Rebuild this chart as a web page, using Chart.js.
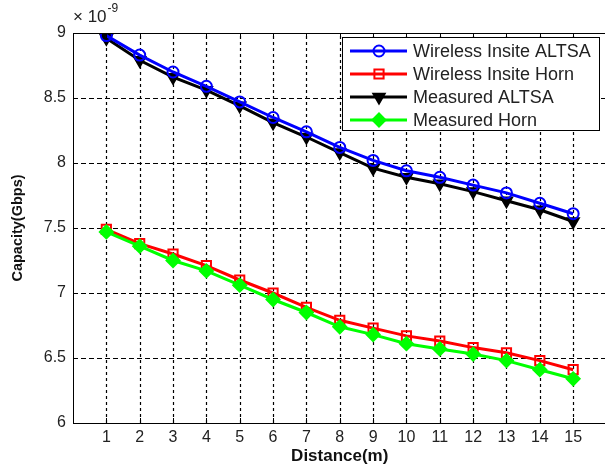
<!DOCTYPE html>
<html>
<head>
<meta charset="utf-8">
<script src="https://cdn.jsdelivr.net/npm/chart.js@4"></script>
<style>
  html, body { margin: 0; padding: 0; background: #fff; overflow: hidden; }
  #wrap { width: 615px; height: 472px; }
</style>
</head>
<body>
<div id="wrap"><canvas id="capChart" width="615" height="472"></canvas></div>
<script>
// afstanden en gemeten capaciteit (x 10^-9)
const distance = [1, 2, 3, 4, 5, 6, 7, 8, 9, 10, 11, 12, 13, 14, 15];
const wiAltsa = [8.98, 8.83, 8.70, 8.59, 8.47, 8.35, 8.24, 8.12, 8.02, 7.94, 7.89, 7.83, 7.77, 7.69, 7.61];
const wiHorn = [7.49, 7.38, 7.30, 7.21, 7.10, 7.00, 6.89, 6.79, 6.73, 6.67, 6.63, 6.58, 6.54, 6.48, 6.41];
const measAltsa = [8.96, 8.79, 8.66, 8.56, 8.44, 8.31, 8.20, 8.08, 7.96, 7.89, 7.84, 7.78, 7.71, 7.64, 7.55];
const measHorn = [7.47, 7.36, 7.25, 7.17, 7.06, 6.95, 6.85, 6.74, 6.68, 6.61, 6.57, 6.53, 6.48, 6.41, 6.34];
const yTicks = [6, 6.5, 7, 7.5, 8, 8.5, 9];
const exponentLabel = "-9";

const FONT = "'Liberation Sans', Arial, sans-serif";

function toPoints(values) {
    return values.map((v, i) => ({ x: distance[i], y: v }));
}

// stippellijnen van het raster, zelf getekend
const gridPlugin = {
    id: "dottedGrid",
    beforeDatasetsDraw(chart) {
        const { ctx, chartArea: a, scales } = chart;
        ctx.save();
        ctx.strokeStyle = "#000";
        ctx.lineWidth = 1.2;
        ctx.setLineDash([3, 3]);
        ctx.beginPath();
        distance.forEach(d => {
            const x = Math.round(scales.x.getPixelForValue(d)) + 0.5;
            ctx.moveTo(x, a.bottom); ctx.lineTo(x, a.top);
        });
        ctx.stroke();
        ctx.setLineDash([5, 3]);
        ctx.beginPath();
        yTicks.forEach(t => {
            const y = Math.round(scales.y.getPixelForValue(t)) + 0.5;
            ctx.moveTo(a.left, y); ctx.lineTo(a.right, y);
        });
        ctx.stroke();
        ctx.restore();
    }
};

// kader met tickjes aan de binnenkant, zoals matlab
const framePlugin = {
    id: "frame",
    afterDatasetsDraw(chart) {
        const { ctx, chartArea: a, scales } = chart;
        ctx.save();
        ctx.strokeStyle = "#000";
        ctx.lineWidth = 1;
        ctx.strokeRect(a.left + 0.5, a.top + 0.5, a.right - a.left, a.bottom - a.top);
        ctx.beginPath();
        distance.forEach(d => {
            const x = Math.round(scales.x.getPixelForValue(d)) + 0.5;
            ctx.moveTo(x, a.bottom); ctx.lineTo(x, a.bottom - 5);
            ctx.moveTo(x, a.top); ctx.lineTo(x, a.top + 5);
        });
        yTicks.forEach(t => {
            const y = Math.round(scales.y.getPixelForValue(t)) + 0.5;
            ctx.moveTo(a.left, y); ctx.lineTo(a.left + 5, y);
            ctx.moveTo(a.right, y); ctx.lineTo(a.right - 5, y);
        });
        ctx.stroke();

        // x 10^-9 boven de y-as
        ctx.fillStyle = "#222";
        ctx.textBaseline = "alphabetic";
        ctx.textAlign = "left";
        ctx.font = "17px " + FONT;
        ctx.fillText("\u00d7 10", a.left, a.top - 11);
        const w = ctx.measureText("\u00d7 10").width;
        ctx.font = "12px " + FONT;
        ctx.fillText(exponentLabel, a.left + w + 1, a.top - 21);
        ctx.restore();
    }
};

// eigen legenda in de rechterbovenhoek
const legendPlugin = {
    id: "boxLegend",
    afterDraw(chart) {
        const { ctx } = chart;
        const box = { x: 342, y: 37, w: 257, h: 93 };
        ctx.save();
        ctx.fillStyle = "#fff";
        ctx.fillRect(box.x, box.y, box.w, box.h);
        ctx.strokeStyle = "#000";
        ctx.lineWidth = 1;
        ctx.strokeRect(box.x + 0.5, box.y + 0.5, box.w, box.h);
        ctx.font = "18px " + FONT;
        ctx.textBaseline = "middle";
        ctx.textAlign = "left";
        chart.data.datasets.forEach((ds, i) => {
            const y = box.y + 14 + i * 23;
            ctx.strokeStyle = ds.borderColor;
            ctx.lineWidth = 3;
            ctx.beginPath();
            ctx.moveTo(350, y); ctx.lineTo(407, y);
            ctx.stroke();
            ctx.lineWidth = ds.pointBorderWidth;
            ctx.fillStyle = ds.pointBackgroundColor;
            Chart.helpers.drawPoint(ctx, {
                pointStyle: ds.pointStyle,
                radius: ds.pointRadius,
                rotation: ds.pointRotation || 0,
                borderWidth: ds.pointBorderWidth
            }, 379, y);
            ctx.fillStyle = "#222";
            ctx.fillText(ds.label, 413, y + 1);
        });
        ctx.restore();
    }
};

const ctx = document.getElementById("capChart").getContext("2d");
new Chart(ctx, {
    type: "line",
    data: {
        datasets: [
            {
                label: "Wireless Insite ALTSA",
                data: toPoints(wiAltsa),
                borderColor: "#0000ff",
                pointBorderColor: "#0000ff",
                pointBackgroundColor: "rgba(255,255,255,0)",
                pointStyle: "circle",
                pointRadius: 5.5,
                pointBorderWidth: 2,
                borderWidth: 3,
                order: 1
            },
            {
                label: "Wireless Insite Horn",
                data: toPoints(wiHorn),
                borderColor: "#ff0000",
                pointBorderColor: "#ff0000",
                pointBackgroundColor: "rgba(255,255,255,0)",
                pointStyle: "rect",
                pointRadius: 6.5,
                pointBorderWidth: 2,
                borderWidth: 3,
                order: 3
            },
            {
                label: "Measured ALTSA",
                data: toPoints(measAltsa),
                borderColor: "#000000",
                pointBorderColor: "#000000",
                pointBackgroundColor: "#000000",
                pointStyle: "triangle",
                pointRotation: 180,
                pointRadius: 6.5,
                pointBorderWidth: 2,
                borderWidth: 3,
                order: 2
            },
            {
                label: "Measured Horn",
                data: toPoints(measHorn),
                borderColor: "#00ff00",
                pointBorderColor: "#00ff00",
                pointBackgroundColor: "#00ff00",
                pointStyle: "rectRot",
                pointRadius: 6.5,
                pointBorderWidth: 2,
                borderWidth: 3,
                order: 2
            }
        ]
    },
    options: {
        responsive: false,
        animation: false,
        layout: { padding: { top: 33, right: 5, left: 0, bottom: 0 } },
        plugins: {
            legend: { display: false },
            tooltip: { enabled: false }
        },
        scales: {
            x: {
                type: "linear",
                min: 0,
                max: 16,
                afterBuildTicks: scale => { scale.ticks = distance.map(v => ({ value: v })); },
                afterFit: scale => { scale.height = 49; },
                grid: { display: false, drawTicks: false },
                border: { display: false },
                ticks: { color: "#222", padding: 5, font: { family: FONT, size: 16 } },
                title: {
                    display: true,
                    text: "Distance(m)",
                    color: "#111",
                    font: { family: FONT, size: 17, weight: "bold" },
                    padding: { top: 0, bottom: 5 }
                }
            },
            y: {
                min: 6,
                max: 9,
                afterBuildTicks: scale => { scale.ticks = yTicks.map(v => ({ value: v })); },
                afterFit: scale => { scale.width = 73; },
                grid: { display: false, drawTicks: false },
                border: { display: false },
                ticks: {
                    color: "#222",
                    padding: 7,
                    font: { family: FONT, size: 16 },
                    callback: v => String(v)
                },
                title: {
                    display: true,
                    text: "Capacity(Gbps)",
                    color: "#111",
                    font: { family: FONT, size: 14.5, weight: "bold" },
                    padding: { top: 9, bottom: 0 }
                }
            }
        }
    },
    plugins: [gridPlugin, framePlugin, legendPlugin]
});
</script>
</body>
</html>
